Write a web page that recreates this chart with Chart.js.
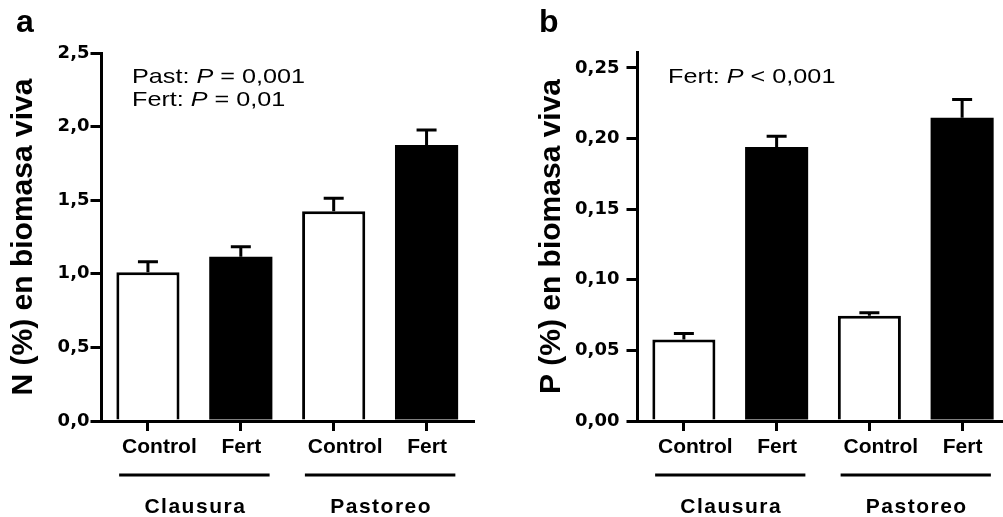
<!DOCTYPE html>
<html><head><meta charset="utf-8">
<script src="https://cdn.jsdelivr.net/npm/chart.js@4.4.1/dist/chart.umd.min.js"></script>
<style>
html,body{margin:0;padding:0;background:#fff;overflow:hidden;width:1003px;height:517px;position:relative;}
#wrapA{position:absolute;left:0;top:0;width:500px;height:517px;}
#wrapB{position:absolute;left:500px;top:0;width:540px;height:517px;}
</style></head><body>
<div id="wrapA"><canvas id="cA"></canvas></div>
<div id="wrapB"><canvas id="cB"></canvas></div>
<script>
// ---- data ----
const categories = ['Control', 'Fert', 'Control', 'Fert'];
const groups = ['Clausura', 'Pastoreo'];
const nMeans = [1.01, 1.115, 1.425, 1.875];
const nErrors = [0.072, 0.069, 0.088, 0.102];
const pMeans = [0.0578, 0.194, 0.0745, 0.2148];
const pErrors = [0.0042, 0.0076, 0.0021, 0.0129];
const nTicks = [0, 0.5, 1.0, 1.5, 2.0, 2.5];
const pTicks = [0, 0.05, 0.10, 0.15, 0.20, 0.25];

const SANS = '"Liberation Sans", Arial, sans-serif';

function drawRich(ctx, parts, x, y, size) {
  ctx.save();
  ctx.translate(x, y);
  ctx.scale(1.2, 1);
  ctx.fillStyle = '#000';
  ctx.textBaseline = 'alphabetic';
  ctx.textAlign = 'left';
  let cx = 0;
  parts.forEach(([t, it]) => {
    ctx.font = (it ? 'italic ' : '') + size + 'px ' + SANS;
    ctx.fillText(t, cx, 0);
    cx += ctx.measureText(t).width;
  });
  ctx.restore();
}

const extras = {
  id: 'extras',
  afterDraw(chart, args, o) {
    const ctx = chart.ctx, xs = chart.scales.x, ys = chart.scales.y, ca = chart.chartArea;
    ctx.save();
    // error bars (upper)
    const meta = chart.getDatasetMeta(0);
    ctx.strokeStyle = '#000';
    ctx.lineWidth = 3;
    meta.data.forEach((bar, i) => {
      const top = ys.getPixelForValue(o.means[i] + o.errors[i]);
      ctx.beginPath();
      ctx.moveTo(bar.x, bar.y);
      ctx.lineTo(bar.x, top);
      ctx.moveTo(bar.x - 10, top);
      ctx.lineTo(bar.x + 10, top);
      ctx.stroke();
    });
    // category labels
    ctx.fillStyle = '#000';
    ctx.font = 'bold 21px ' + SANS;
    ctx.textAlign = 'center';
    ctx.textBaseline = 'alphabetic';
    categories.forEach((c, i) => {
      const shift = c === 'Control' ? 11.5 : 0.5;
      ctx.fillText(c, xs.getPixelForValue(i) + shift, ca.bottom + 32);
    });
    // group lines and labels
    const half = (xs.getPixelForValue(1) - xs.getPixelForValue(0)) * 0.31;
    groups.forEach((g, gi) => {
      const a = xs.getPixelForValue(gi * 2), b = xs.getPixelForValue(gi * 2 + 1);
      ctx.beginPath();
      ctx.lineWidth = 3;
      ctx.moveTo(a - half, ca.bottom + 54);
      ctx.lineTo(b + half, ca.bottom + 54);
      ctx.stroke();
      ctx.font = 'bold 21px ' + SANS;
      ctx.letterSpacing = '1.5px';
      ctx.textAlign = 'center';
      ctx.fillText(g, (a + b) / 2 + 1, ca.bottom + 92);
      ctx.letterSpacing = '0px';
    });
    // panel letter
    ctx.font = 'bold 32px ' + SANS;
    ctx.textAlign = 'left';
    ctx.fillText(o.letter, o.letterX, 32);
    // statistics
    o.notes.forEach((parts, i) => drawRich(ctx, parts, ca.left + 30.5, 83 + i * 23, 21));
    ctx.restore();
  }
};

function makeChart(id, cfg) {
  return new Chart(document.getElementById(id), {
    type: 'bar',
    data: {
      labels: categories,
      datasets: [{
        data: cfg.means,
        backgroundColor: categories.map(c => c === 'Fert' ? '#000' : '#fff'),
        borderColor: '#000',
        borderWidth: categories.map(c => c === 'Fert' ? 0 : 3),
        borderSkipped: 'bottom',
        barPercentage: 0.68,
        categoryPercentage: 1.0
      }]
    },
    options: {
      responsive: true,
      maintainAspectRatio: false,
      animation: false,
      events: [],
      layout: { padding: { top: cfg.top, right: cfg.right, left: cfg.left, bottom: 0 } },
      plugins: {
        legend: { display: false },
        tooltip: { enabled: false },
        extras: { means: cfg.means, errors: cfg.errors, letter: cfg.letter, letterX: cfg.letterX, notes: cfg.notes }
      },
      scales: {
        x: {
          offset: true,
          grid: { display: true, drawOnChartArea: false, drawTicks: true, offset: false, tickLength: 10, lineWidth: 3, tickWidth: 3, color: '#000' },
          border: { display: true, color: '#000', width: 3 },
          ticks: { display: false },
          afterFit(s) { s.height = 96; }
        },
        y: {
          min: 0,
          max: cfg.max,
          grid: { display: true, drawOnChartArea: false, drawTicks: true, tickLength: 11, lineWidth: 3, tickWidth: 3, color: '#000' },
          border: { display: true, color: '#000', width: 3 },
          afterBuildTicks(s) { s.ticks = cfg.ticks.map(v => ({ value: v })); },
          ticks: {
            color: '#000',
            font: { family: '"DejaVu Sans", sans-serif', weight: 'bold', size: 18 },
            padding: cfg.tickPad,
            callback: v => Number(v).toFixed(cfg.dec).replace('.', ',')
          },
          title: {
            display: true,
            text: cfg.title,
            color: '#000',
            font: { family: SANS, weight: 'bold', size: 30, lineHeight: 1.2 },
            padding: { top: 6, bottom: 0 }
          },
          afterFit(s) { s.width = cfg.yWidth; }
        }
      }
    },
    plugins: [extras]
  });
}

makeChart('cA', {
  means: nMeans, errors: nErrors, ticks: nTicks, max: 2.5, dec: 1,
  title: 'N (%) en biomasa viva', letter: 'a', letterX: 16,
  top: 53, right: 27, left: 0, yWidth: 101.5, tickPad: 1,
  notes: [
    [['Past: ', 0], ['P', 1], [' = 0,001', 0]],
    [['Fert: ', 0], ['P', 1], [' = 0,01', 0]]
  ]
});

makeChart('cB', {
  means: pMeans, errors: pErrors, ticks: pTicks, max: 0.2613, dec: 2,
  title: 'P (%) en biomasa viva', letter: 'b', letterX: 39,
  top: 52, right: 31.5, left: 28, yWidth: 109.5, tickPad: 7,
  notes: [
    [['Fert: ', 0], ['P', 1], [' < 0,001', 0]]
  ]
});
</script>
</body></html>
